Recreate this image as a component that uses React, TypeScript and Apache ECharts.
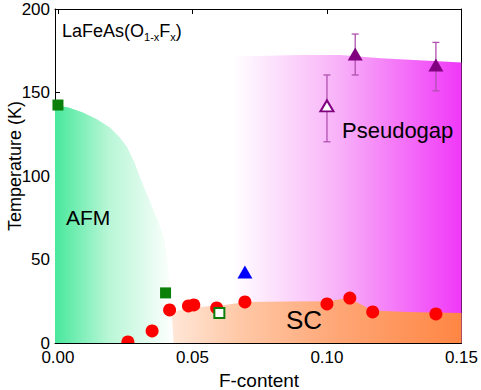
import React, { useEffect, useRef } from 'react';
import * as echarts from 'echarts';

// --- data ---
const scX = [0.026, 0.035, 0.0415, 0.0485, 0.0505, 0.059, 0.0695, 0.1, 0.1085, 0.117, 0.1405];
const scT = [0.6, 7.2, 19.8, 22.2, 22.8, 21, 24.6, 23.4, 26.9, 18.6, 17.4];

const afmX = [0, 0.04];
const afmT = [142.5, 30];
const afmOpenX = [0.06];
const afmOpenT = [18];

const nmrX = [0.0695];
const nmrT = [42.5];

const pgOpenX = [0.1];
const pgOpenT = [142];
const pgOpenLow = [120.5];
const pgOpenHigh = [160.5];

const pgX = [0.1105, 0.1405];
const pgT = [173, 166.5];
const pgLow = [160.5, 151];
const pgHigh = [185, 180];

// phase-region boundaries (x, T)
const afmEdge = [
  [-0.0011, 142.5], [0.004, 141], [0.0093, 138], [0.0145, 134], [0.0193, 129],
  [0.023, 123], [0.0256, 117.5], [0.0285, 108], [0.0304, 99.5], [0.034, 85.5],
  [0.037, 74], [0.0396, 62], [0.0415, 38], [0.043, 0], [-0.0011, 0],
];
const scEdge = [
  [0.022, 0], [0.03, 5], [0.036, 10.5], [0.042, 18], [0.048, 21], [0.055, 21.8],
  [0.062, 22.8], [0.07, 24.5], [0.085, 24.8], [0.1, 25], [0.108, 27], [0.117, 19.5],
  [0.13, 18.5], [0.15, 18], [0.15, 0],
];
const pgEdge = [
  [0.065, 171.5], [0.09, 172.5], [0.105, 172.5], [0.12, 170.5], [0.15, 168], [0.15, 0], [0.065, 0],
];

const FONT = 'Liberation Sans, Arial, sans-serif';

function regionSeries(edge: number[][], stops: [number, string][], z: number) {
  return {
    type: 'custom',
    silent: true,
    clip: true,
    z,
    data: [[0, 0]],
    renderItem: (_params: any, api: any) => {
      const pts = edge.map((p) => api.coord(p));
      return {
        type: 'polygon',
        shape: { points: pts },
        style: {
          fill: new echarts.graphic.LinearGradient(
            0, 0, 1, 0,
            stops.map(([offset, color]) => ({ offset, color }))
          ),
          stroke: null,
        },
      };
    },
  };
}

function errorSeries(xs: number[], lo: number[], hi: number[], z: number) {
  return {
    type: 'custom',
    silent: true,
    z,
    data: xs.map((x, i) => [x, lo[i], hi[i]]),
    renderItem: (_params: any, api: any) => {
      const x = api.value(0);
      const a = api.coord([x, api.value(1)]);
      const b = api.coord([x, api.value(2)]);
      const w = 3.5;
      const st = { stroke: '#b050b0', lineWidth: 1.3 };
      return {
        type: 'group',
        children: [
          { type: 'line', shape: { x1: a[0], y1: a[1], x2: b[0], y2: b[1] }, style: st },
          { type: 'line', shape: { x1: a[0] - w, y1: a[1], x2: a[0] + w, y2: a[1] }, style: st },
          { type: 'line', shape: { x1: b[0] - w, y1: b[1], x2: b[0] + w, y2: b[1] }, style: st },
        ],
      };
    },
  };
}

export default function App() {
  const ref = useRef<HTMLDivElement>(null);

  useEffect(() => {
    if (!ref.current) return;
    const chart = echarts.init(ref.current, null, { renderer: 'svg' });

    const axisCommon = {
      type: 'value',
      splitLine: { show: false },
      axisLine: { show: true, onZero: false, lineStyle: { color: '#000', width: 1 } },
      axisTick: { show: true, inside: true, length: 5, lineStyle: { color: '#000' } },
    };

    const xCommon = {
      ...axisCommon,
      min: -0.0011,
      max: 0.15,
      splitNumber: 3,
      minInterval: 0.05,
      maxInterval: 0.05,
    };
    const yCommon = { ...axisCommon, min: 0, max: 200, interval: 50 };

    const scatter = (symbol: string, size: any, style: any, data: number[][]) => ({
      type: 'scatter',
      z: 6,
      symbol,
      symbolSize: size,
      itemStyle: { opacity: 1, ...style },
      emphasis: { disabled: true },
      data,
    });

    chart.setOption({
      animation: false,
      textStyle: { fontFamily: FONT },
      grid: { left: 55, right: 18, top: 9, bottom: 47 },
      xAxis: [
        {
          ...xCommon,
          position: 'bottom',
          axisLabel: {
            color: '#000',
            fontSize: 17,
            fontFamily: FONT,
            margin: 6,
            formatter: (v: number) => (v < 0 ? '' : v.toFixed(2)),
          },
        },
        { ...xCommon, position: 'top', axisLabel: { show: false } },
      ],
      yAxis: [
        {
          ...yCommon,
          position: 'left',
          axisLabel: { color: '#000', fontSize: 17, fontFamily: FONT, margin: 5 },
        },
        { ...yCommon, position: 'right', axisLabel: { show: false } },
      ],
      series: [
        regionSeries(pgEdge, [[0, '#ffffff'], [0.45, '#f8b4f8'], [1, '#f038f8']], 1),
        regionSeries(scEdge, [[0, '#ffffff'], [0.35, '#ffc9a8'], [0.65, '#ffa574'], [1, '#ff8644']], 2),
        regionSeries(afmEdge, [[0, '#48e89c'], [0.45, '#b8f6d6'], [1, '#ffffff']], 3),
        errorSeries(pgOpenX, pgOpenLow, pgOpenHigh, 4),
        errorSeries(pgX, pgLow, pgHigh, 4),
        {
          type: 'custom',
          z: 5,
          clip: true,
          silent: true,
          data: scX.map((x, i) => [x, scT[i]]),
          renderItem: (_p: any, api: any) => {
            const c = api.coord([api.value(0), api.value(1)]);
            return { type: 'circle', shape: { cx: c[0], cy: c[1], r: 6.5 }, style: { fill: '#ff0000' } };
          },
        },
        scatter('rect', 11, { color: '#0a7f0a' }, afmX.map((x, i) => [x, afmT[i]])),
        scatter('rect', 10, { color: '#ffffff', borderColor: '#0a7f0a', borderWidth: 2 },
          afmOpenX.map((x, i) => [x, afmOpenT[i]])),
        scatter('triangle', [15, 13], { color: '#0000ff' }, nmrX.map((x, i) => [x, nmrT[i]])),
        scatter('triangle', [15, 13], { color: '#800080' }, pgX.map((x, i) => [x, pgT[i]])),
        scatter('triangle', [13, 11], { color: '#ffffff', borderColor: '#800080', borderWidth: 2 },
          pgOpenX.map((x, i) => [x, pgOpenT[i]])),
      ],
      graphic: [
        {
          type: 'text',
          left: 62,
          top: 22,
          z: 10,
          style: {
            text: '{m|LaFeAs(O}{s|1-x}{m|F}{s|x}{m|)}',
            rich: {
              m: { fontSize: 18, fontFamily: FONT, fill: '#000', lineHeight: 22 },
              s: { fontSize: 11, fontFamily: FONT, fill: '#000', lineHeight: 12, verticalAlign: 'bottom' },
            },
          },
        },
        {
          type: 'text',
          left: 66,
          top: 207,
          z: 10,
          style: { text: 'AFM', fontSize: 21, fontFamily: FONT, fill: '#000' },
        },
        {
          type: 'text',
          left: 342,
          top: 119,
          z: 10,
          style: { text: 'Pseudogap', fontSize: 22, fontFamily: FONT, fill: '#000' },
        },
        {
          type: 'text',
          left: 286,
          top: 307,
          z: 10,
          style: { text: 'SC', fontSize: 26, fontFamily: FONT, fill: '#000' },
        },
        {
          type: 'text',
          x: 259,
          y: 380,
          z: 10,
          style: { text: 'F-content', fontSize: 19, fontFamily: FONT, fill: '#000', align: 'center', verticalAlign: 'middle' },
        },
        {
          type: 'text',
          x: 15,
          y: 166,
          rotation: Math.PI / 2,
          z: 10,
          style: { text: 'Temperature (K)', fontSize: 18, fontFamily: FONT, fill: '#000', align: 'center', verticalAlign: 'middle' },
        },
      ],
    });

    return () => chart.dispose();
  }, []);

  return (
    <div
      ref={ref}
      style={{ position: 'fixed', left: 0, top: 0, width: 481, height: 390, background: '#fff' }}
    />
  );
}
